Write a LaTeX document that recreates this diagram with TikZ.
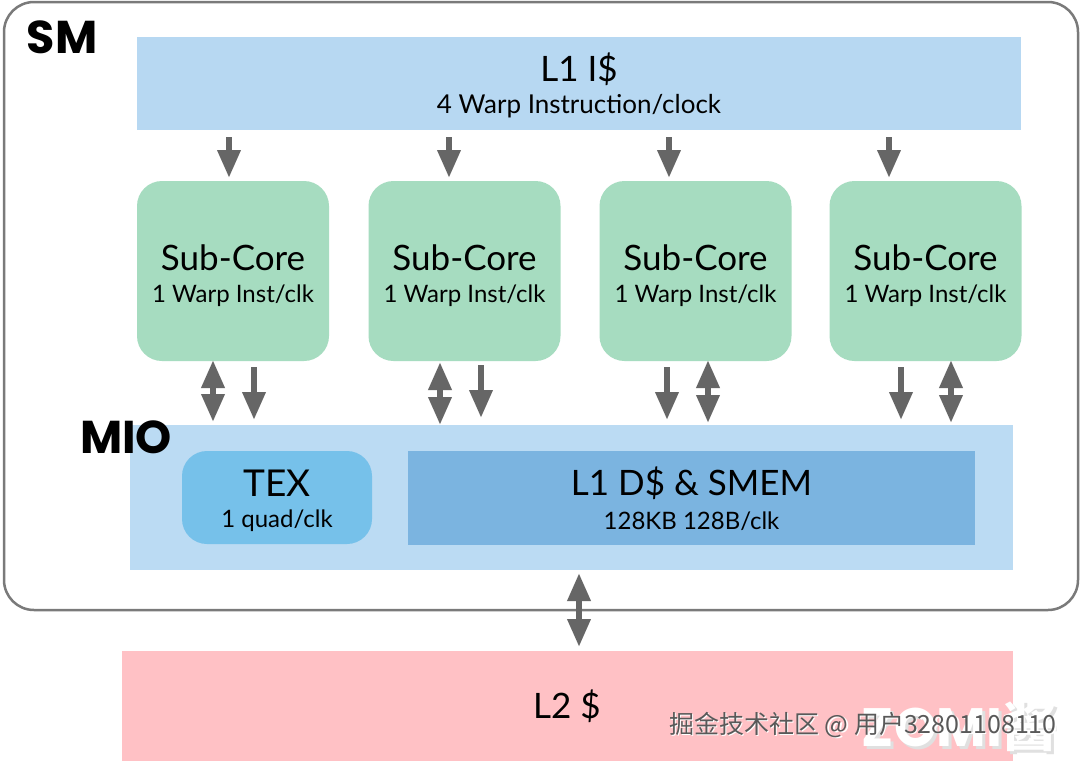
\documentclass[tikz,border=0pt]{standalone}
\usepackage{fontspec}
\setmainfont{Lato}
\newfontfamily\heavy{Poppins}
\newfontfamily\cjk{Noto Sans CJK SC}
\usetikzlibrary{arrows.meta,calc}
\definecolor{smline}{HTML}{7A7A7A}
\definecolor{lii}{HTML}{B7D8F2}
\definecolor{subc}{HTML}{A6DCC0}
\definecolor{mio}{HTML}{BBDBF3}
\definecolor{tex}{HTML}{76C1EA}
\definecolor{lid}{HTML}{7BB4E0}
\definecolor{ltwo}{HTML}{FFC1C5}
\definecolor{arrc}{HTML}{666666}
\tikzset{
  blk/.style={inner sep=0pt, outer sep=0pt, align=center},
  ttl/.style={font=\fontsize{35}{35}\selectfont},
  sub/.style={font=\fontsize{24}{24}\selectfont},
  arr/.style={draw=arrc, line width=6.5pt, -{Triangle[width=22pt,length=28pt]}},
  darr/.style={draw=arrc, line width=6.5pt, {Triangle[width=22pt,length=28pt]}-{Triangle[width=22pt,length=28pt]}},
  lbl/.style={inner sep=0pt, font=\heavy\bfseries\fontsize{46}{46}\selectfont},
}
\begin{document}
\begin{tikzpicture}[x=1pt,y=-1pt]
\useasboundingbox (0,0) rectangle (1080,761);
\fill[white] (0,0) rectangle (1080,761);
% SM outer box
\node[blk, draw=smline, line width=2.5pt, rounded corners=30pt, minimum width=1074pt, minimum height=608pt] (sm) at (541,306) {};
\node[lbl] (smlbl) at (62,37) {SM};
% L1 I$
\node[blk, fill=lii, minimum width=884pt, minimum height=93pt] (l1i) at (579,83.5) {};
\node[ttl] (l1it) at (579,69) {L1 I\$};
\node[sub, font=\fontsize{26}{26}\selectfont] (l1is) at (579,106) {4 Warp Instruction/clock};
% Sub-cores
\foreach \i/\x in {1/233,2/464.5,3/695.5,4/925.5}{
  \node[blk, fill=subc, rounded corners=25pt, minimum width=192pt, minimum height=180pt] (sc\i) at (\x,271) {};
  \node[ttl] (sct\i) at (\x,258) {Sub-Core};
  \node[sub] (scs\i) at (\x,296) {1 Warp Inst/clk};
}
% MIO
\node[blk, fill=mio, minimum width=883pt, minimum height=145pt] (mio) at (571.5,497.5) {};
\node[lbl] (miolbl) at (126,437) {MIO};
\node[blk, fill=tex, rounded corners=25pt, minimum width=190pt, minimum height=93pt] (tex) at (277,497.5) {};
\node[ttl, font=\fontsize{37}{37}\selectfont] (text) at (277,483) {TEX};
\node[sub] (texs) at (277,521) {1 quad/clk};
\node[blk, fill=lid, minimum width=567pt, minimum height=94pt] (l1d) at (691.5,498) {};
\node[ttl] (l1dt) at (691.5,483) {L1 D\$ \& SMEM};
\node[sub] (l1ds) at (691.5,521) {128KB 128B/clk};
% L2
\node[blk, fill=ltwo, minimum width=891pt, minimum height=112pt] (l2) at (567.5,707) {};
\node[ttl] (l2t) at (567,706) {L2 \$};
% arrow end points
\foreach \i/\x in {1/229,2/449,3/669,4/889}{
  \coordinate (ta\i) at (\x,137);
  \coordinate (tb\i) at (\x,178);
  \draw[arr] (ta\i) -- (tb\i);
}
\coordinate (d1a) at (213,360); \coordinate (d1b) at (213,422);
\coordinate (s1a) at (254,367); \coordinate (s1b) at (254,420);
\coordinate (d2a) at (440,362); \coordinate (d2b) at (440,425);
\coordinate (s2a) at (481,365); \coordinate (s2b) at (481,418);
\coordinate (s3a) at (667,367); \coordinate (s3b) at (667,420);
\coordinate (d3a) at (708,360); \coordinate (d3b) at (708,423);
\coordinate (s4a) at (901,367); \coordinate (s4b) at (901,420);
\coordinate (d4a) at (951,360); \coordinate (d4b) at (951,423);
\coordinate (m2a) at (579,573); \coordinate (m2b) at (579,647);
\draw[darr] (d1a) -- (d1b);
\draw[arr] (s1a) -- (s1b);
\draw[darr] (d2a) -- (d2b);
\draw[arr] (s2a) -- (s2b);
\draw[arr] (s3a) -- (s3b);
\draw[darr] (d3a) -- (d3b);
\draw[arr] (s4a) -- (s4b);
\draw[darr] (d4a) -- (d4b);
\draw[darr] (m2a) -- (m2b);
% watermark
\node[inner sep=0pt, text=black!12, font=\heavy\bfseries\fontsize{54}{54}\selectfont] (zsh) at (962,729) {ZOMI\cjk 酱};
\node[inner sep=0pt, text=white, font=\heavy\bfseries\fontsize{54}{54}\selectfont] (zomi) at (959,726) {ZOMI\cjk 酱};
\node[inner sep=0pt, text=white, font=\cjk\fontsize{25}{25}\selectfont] (wmsh) at (864.5,726.5) {掘金技术社区 @ 用户32801108110};
\node[inner sep=0pt, text=black!65, font=\cjk\fontsize{25}{25}\selectfont] (wm) at (863,725) {掘金技术社区 @ 用户32801108110};
\end{tikzpicture}
\end{document}
